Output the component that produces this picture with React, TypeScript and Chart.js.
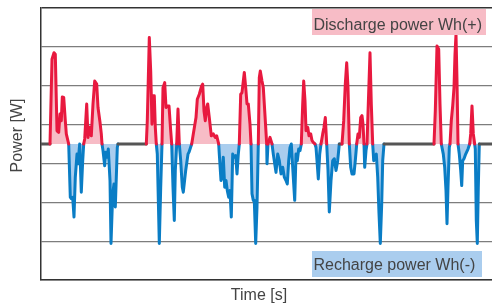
import React, { useEffect, useRef } from "react";
import { Chart, registerables } from "chart.js";

Chart.register(...registerables);

// Time [s] samples
const time: number[] = [
  0, 9, 11, 13, 14.3, 16, 17.7, 19, 20.3, 21.3, 22.7, 24.3, 25.3, 27.7, 29.3, 30.3, 31.7, 33, 34.3, 36, 37, 38.7,
  40.3, 41.7, 42.7, 43.7, 45.7, 47, 48.7, 50.3, 52, 53.7, 55.7, 57, 59, 60.3, 61, 62, 63.7, 64.7, 66, 67.3, 69, 70,
  71.7, 73, 74.3, 76.3, 77, 105.3, 106.3, 108.3, 109.7, 111, 112.3, 113.3, 114.3, 115.3, 116.3, 118.3, 119.7, 121,
  122, 123.7, 125, 126.3, 128, 129.7, 130.7, 132, 133.3, 134.3, 135.7, 137, 138.3, 139.7, 141.3, 142.3, 144.7, 147,
  148, 150.7, 152.3, 155, 156.3, 158.3, 160.7, 161.7, 163, 164.3, 165.7, 166.7, 168.3, 170.3, 172.3, 174.3, 175.7,
  177.7, 178.3, 180, 181, 182.3, 183.7, 185, 186.3, 187.7, 189, 190.3, 191.7, 193.3, 194.7, 196, 197.3, 198.3, 199.7,
  201, 202.3, 203.3, 204.7, 206, 207.3, 209, 210, 211, 212.3, 213.3, 214.7, 216, 217.3, 218.3, 219.3, 221, 222.3,
  224.3, 225.7, 226, 227, 229, 231, 232.3, 235, 236.7, 238.3, 240, 241.7, 243.3, 245, 246.3, 247.7, 249, 250.3, 251.7,
  253.7, 255, 256.3, 257.7, 259, 260.3, 261.7, 262.7, 264, 265, 266.7, 268, 269.7, 271, 272.3, 274, 275, 276, 277.3,
  278.7, 280, 281.7, 283, 284.3, 285.7, 287, 288.3, 290, 291.7, 293.3, 295, 296.7, 298.3, 301, 302.7, 304.3, 305.7,
  307, 308.3, 309.7, 311, 313, 314.3, 315.7, 317, 318.3, 319.7, 321, 322, 323, 323.7, 325, 326, 327.3, 329, 330.3,
  331.7, 332.7, 334, 335.3, 336.7, 338, 339.3, 340.7, 341.7, 343, 393, 394.3, 396, 397.7, 399, 400.3, 402.3, 403.7,
  405, 406, 407, 408.3, 409, 410.3, 411.7, 413, 414, 415, 416, 417, 418.3, 419.7, 420.7, 421.7, 423, 424.7, 427,
  428.7, 429.7, 431, 432.3, 433.7, 434.3, 435.3, 436.3, 437.3, 438.3, 451,
];

// Power [W] (positive = discharge, negative = recharge)
const power: number[] = [
  0, 0, 2.18, 2.35, 2.31, 0.34, 0.3, 0.77, 0.6, 1.21, 1.2, 0.6, 0.26, 0, -1.37, -1.41, -1.37, -1.88, -0.85, -0.26, -0.51, 0,
  -1.24, -0.43, 0, 0.13, 1.03, 0.17, 0.43, 0.21, 1.03, 1.62, 1.54, 0.94, 0.56, 0.26, 0, -0.17, -0.56, -0.21, -0.34, -0.13, -0.94, -2.56,
  -1.28, -1.03, -1.62, -0.09, 0, 0, 0.6, 2.74, 1.88, 0.51, 1.24, 1.24, 0.43, 0, -0.26, -2.56, -1.11, 0,
  1.45, 1.58, 0.94, 0.98, 0.98, 0.34, 0, -1.11, -1.97, -0.68, 0, 0.9, 0, -0.43, -1.11, -1.24, -0.68, -0.26,
  -0.21, 0, 0.26, 0.68, 1.15, 1.28, 1.5, 1.54, 0.85, 0.6, 0.94, 1.03, 0.68, 0.21, 0.26, 0.17, 0.21,
  0, -0.26, -0.94, -0.85, -0.34, -1.11, -0.94, -1.2, -1.37, -1.2, -1.88, -0.26, -0.34, -0.3, -0.77, -0.26, 0, 1.28,
  1.32, 1.62, 1.84, 1.45, 1.03, 1.03, 0.51, 0, -1.28, -1.45, -1.45, -2.56, -1.62, 0, 1.71, 1.88, 1.62, 1.45,
  0.6, 0, -0.51, 0, 0.17, 0, -0.26, -0.73, -0.26, -0.43, -0.77, -0.6, -0.85, -0.94, -1.03, -0.43, -0.09, 0, -0.6,
  -1.45, -0.26, -0.43, -0.13, -0.17, 0, 1.03, 1.62, 1.11, 0.34, 0.43, 0.21, 0.26, 0.09, 0.04, 0, -0.09, -0.43, -0.9,
  -0.26, 0, 0.26, 0.43, 0.68, 0, -0.68, -1.75, -0.94, -0.43, -0.38, -0.68, -0.43, 0, 0, 0.6, 1.54, 2.09,
  1.45, 0, -0.6, -0.77, -0.77, -0.43, 0, 0.26, 0.17, 0.68, 0.73, 0.51, 0, -0.6, -0.17, 0, 1.03, 2.35, 1.03,
  0, -0.43, -0.34, -0.26, -0.85, -1.79, -2.56, -1.54, -0.43, 0, 0, 0.85, 2.52, 2.44, 1.03, 0, -0.26, -0.6,
  -1.2, -2.05, -1.11, -0.09, 0, 0.6, 0.98, 1.45, 2.31, 2.82, 1.62, 0, -0.26, -0.68, -1.07, -0.43, -0.38, -0.26, -0.13,
  0, 0.26, 0.98, 0.26, 0, -0.13, -1.97, -2.56, -1.11, 0, 0,
];

// Horizontal grid levels
const gridLevels: number[] = [-3.5, -2.5, -1.5, -0.5, 0.5, 1.5, 2.5, 3.5];

const xTitle = "Time [s]";
const yTitle = "Power [W]";
const dischargeLabel = "Discharge power Wh(+)";
const rechargeLabel = "Recharge power Wh(-)";

const RED = "#e8193f";
const BLUE = "#0a7dc5";
const PINK_FILL = "#f7bcc6";
const BLUE_FILL = "#aacdee";
const ZERO_GRAY = "#555555";
const TEXT = "#444444";
const FONT = "16px 'Liberation Sans', Arial, sans-serif";

export default function App() {
  const ref = useRef<HTMLCanvasElement | null>(null);

  useEffect(() => {
    const canvas = ref.current;
    if (!canvas) return;

    const posData = time.map((t, i) => ({ x: t, y: Math.max(power[i], 0) }));
    const negData = time.map((t, i) => ({ x: t, y: Math.min(power[i], 0) }));

    const annot = {
      id: "annot",
      afterDraw(chart: any) {
        const c = chart.ctx;
        c.save();
        c.font = FONT;
        c.textBaseline = "alphabetic";
        // legend boxes
        c.fillStyle = PINK_FILL;
        c.fillRect(312, 9, 174, 26);
        c.fillStyle = TEXT;
        c.textAlign = "left";
        c.fillText(dischargeLabel, 313.5, 30);
        c.fillStyle = BLUE_FILL;
        c.fillRect(312, 251, 170, 26);
        c.fillStyle = TEXT;
        c.fillText(rechargeLabel, 313.5, 270);
        // axis titles
        c.textAlign = "center";
        c.fillText(xTitle, 259, 300);
        c.translate(21.5, 135.5);
        c.rotate(-Math.PI / 2);
        c.fillText(yTitle, 0, 0);
        c.restore();
      },
    };

    const chart = new Chart(canvas, {
      type: "line",
      data: {
        datasets: [
          {
            data: posData,
            borderColor: RED,
            backgroundColor: PINK_FILL,
            fill: "origin",
            borderWidth: 3,
            pointRadius: 0,
            tension: 0,
            borderJoinStyle: "round",
            borderCapStyle: "round",
            segment: {
              borderColor: (ctx: any) => {
                const a = power[ctx.p0DataIndex];
                const b = power[ctx.p1DataIndex];
                if (a === 0 && b === 0) return ZERO_GRAY;
                if (a <= 0 && b <= 0) return "rgba(0,0,0,0)";
                return RED;
              },
            },
          },
          {
            data: negData,
            borderColor: BLUE,
            backgroundColor: BLUE_FILL,
            fill: "origin",
            borderWidth: 3,
            pointRadius: 0,
            tension: 0,
            borderJoinStyle: "round",
            borderCapStyle: "round",
            segment: {
              borderColor: (ctx: any) => {
                const a = power[ctx.p0DataIndex];
                const b = power[ctx.p1DataIndex];
                if (a >= 0 && b >= 0) return "rgba(0,0,0,0)";
                return BLUE;
              },
            },
          },
        ],
      },
      options: {
        animation: false,
        responsive: false,
        maintainAspectRatio: false,
        layout: { padding: { left: 41, right: 0, top: 8, bottom: 24 } },
        plugins: { legend: { display: false }, tooltip: { enabled: false } },
        scales: {
          x: {
            type: "linear",
            min: 0,
            max: 451,
            ticks: { display: false },
            grid: { display: false, drawTicks: false },
            border: { display: true, color: "#333333", width: 1.5 },
          },
          y: {
            type: "linear",
            min: -3.5,
            max: 3.5,
            afterBuildTicks: (scale: any) => {
              scale.ticks = gridLevels.map((v) => ({ value: v }));
            },
            ticks: { display: false },
            grid: {
              drawTicks: false,
              color: (ctx: any) =>
                ctx.tick && ctx.tick.value === 3.5 ? "#333333" : "#7d7d7d",
              lineWidth: (ctx: any) => (ctx.tick && ctx.tick.value === 3.5 ? 1.5 : 1.2),
            },
            border: { display: true, color: "#333333", width: 1.5 },
          },
        },
      },
      plugins: [annot],
    } as any);

    return () => chart.destroy();
  }, []);

  return (
    <div style={{ position: "absolute", left: 0, top: 0, width: 492, height: 304, background: "#fff" }}>
      <canvas ref={ref} width={492} height={304} style={{ display: "block" }} />
    </div>
  );
}
